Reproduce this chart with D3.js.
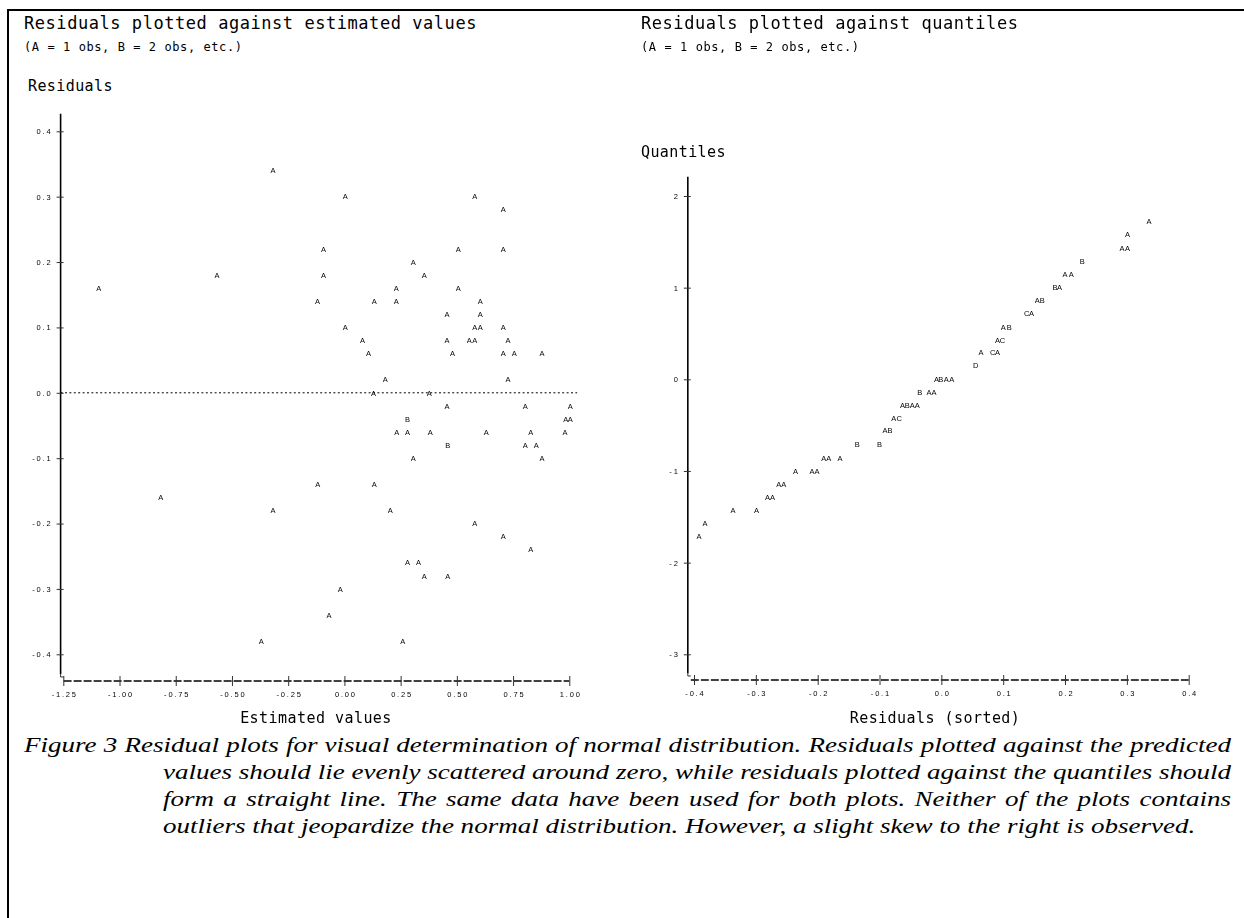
<!DOCTYPE html>
<html>
<head>
<meta charset="utf-8">
<script src="https://cdn.jsdelivr.net/npm/d3@7"></script>
<style>
  body { margin: 0; background: #fff; }
  svg { display: block; }
  .mono-ink { opacity: 0.999; }
</style>
</head>
<body>
<svg id="fig" width="1244" height="918"></svg>
<script>
// ---- Left panel: residual vs estimated value (count = observations in the cell) ----
const estValues = [
  -0.318,
  0.004, 0.580,
  0.706,
  -0.093, 0.506, 0.706,
  0.306,
  -0.567, -0.093, 0.355,
  -1.092, 0.231, 0.506,
  -0.120, 0.133, 0.231, 0.604,
  0.456, 0.604,
  0.004, 0.580, 0.604, 0.706,
  0.080, 0.456, 0.555, 0.580, 0.728,
  0.107, 0.481, 0.706, 0.755, 0.879,
  0.182, 0.728,
  0.129, 0.377,
  0.456, 0.804, 1.004,
  0.281, 0.984, 1.004,
  0.233, 0.281, 0.382, 0.631, 0.829, 0.981,
  0.459, 0.804, 0.853,
  0.306, 0.879,
  -0.118, 0.133,
  -0.817,
  -0.318, 0.204,
  0.580,
  0.706,
  0.829,
  0.281, 0.329,
  0.355, 0.459,
  -0.018,
  -0.069,
  -0.370, 0.259
];
const estResiduals = [
  0.34,
  0.30, 0.30,
  0.28,
  0.22, 0.22, 0.22,
  0.20,
  0.18, 0.18, 0.18,
  0.16, 0.16, 0.16,
  0.14, 0.14, 0.14, 0.14,
  0.12, 0.12,
  0.10, 0.10, 0.10, 0.10,
  0.08, 0.08, 0.08, 0.08, 0.08,
  0.06, 0.06, 0.06, 0.06, 0.06,
  0.02, 0.02,
  0.00, 0.00,
  -0.02, -0.02, -0.02,
  -0.04, -0.04, -0.04,
  -0.06, -0.06, -0.06, -0.06, -0.06, -0.06,
  -0.08, -0.08, -0.08,
  -0.10, -0.10,
  -0.14, -0.14,
  -0.16,
  -0.18, -0.18,
  -0.20,
  -0.22,
  -0.24,
  -0.26, -0.26,
  -0.28, -0.28,
  -0.30,
  -0.34,
  -0.38, -0.38
];
const estCounts = [
  1,
  1, 1,
  1,
  1, 1, 1,
  1,
  1, 1, 1,
  1, 1, 1,
  1, 1, 1, 1,
  1, 1,
  1, 1, 1, 1,
  1, 1, 1, 1, 1,
  1, 1, 1, 1, 1,
  1, 1,
  1, 1,
  1, 1, 1,
  2, 1, 1,
  1, 1, 1, 1, 1, 1,
  2, 1, 1,
  1, 1,
  1, 1,
  1,
  1, 1,
  1,
  1,
  1,
  1, 1,
  1, 1,
  1,
  1,
  1, 1
];

// ---- Right panel: sorted residual vs normal quantile ----
const sortedResiduals = [
  0.336,
  0.301,
  0.292, 0.301,
  0.228,
  0.200, 0.210,
  0.184, 0.191,
  0.155, 0.163,
  0.138, 0.146,
  0.100, 0.110,
  0.091, 0.099,
  0.064, 0.083, 0.091,
  0.0555,
  -0.008, -0.001, 0.008, 0.017,
  -0.035, -0.020, -0.012,
  -0.063, -0.055, -0.047, -0.039,
  -0.077, -0.068,
  -0.091, -0.083,
  -0.136, -0.100,
  -0.190, -0.182, -0.164,
  -0.236, -0.209, -0.201,
  -0.263, -0.255,
  -0.281, -0.273,
  -0.337, -0.299,
  -0.382,
  -0.392
];
const quantiles = [
  1.72,
  1.58,
  1.43, 1.43,
  1.29,
  1.15, 1.15,
  1.00, 1.00,
  0.86, 0.86,
  0.72, 0.72,
  0.57, 0.57,
  0.43, 0.43,
  0.29, 0.29, 0.29,
  0.15,
  0.00, 0.00, 0.00, 0.00,
  -0.14, -0.14, -0.14,
  -0.28, -0.28, -0.28, -0.28,
  -0.42, -0.42,
  -0.56, -0.56,
  -0.71, -0.71,
  -0.86, -0.86, -0.86,
  -1.00, -1.00, -1.00,
  -1.14, -1.14,
  -1.29, -1.29,
  -1.43, -1.43,
  -1.57,
  -1.71
];
const quantileCounts = [
  1,
  1,
  1, 1,
  2,
  1, 1,
  2, 1,
  1, 2,
  3, 1,
  1, 2,
  1, 3,
  1, 3, 1,
  4,
  1, 2, 1, 1,
  2, 1, 1,
  1, 2, 1, 1,
  1, 3,
  1, 2,
  2, 2,
  1, 1, 1,
  1, 1, 1,
  1, 1,
  1, 1,
  1, 1,
  1,
  1
];

// ---- Tick values ----
const estTicks = [-1.25, -1.00, -0.75, -0.50, -0.25, 0.00, 0.25, 0.50, 0.75, 1.00];
const residTicks = [-0.4, -0.3, -0.2, -0.1, 0.0, 0.1, 0.2, 0.3, 0.4];
const sortedResidTicks = [-0.4, -0.3, -0.2, -0.1, 0.0, 0.1, 0.2, 0.3, 0.4];
const quantileTicks = [-3, -2, -1, 0, 1, 2];

const captionLines = [
  "Figure 3 Residual plots for visual determination of normal distribution. Residuals plotted against the predicted",
  "values should lie evenly scattered around zero, while residuals plotted against the quantiles should",
  "form a straight line. The same data have been used for both plots. Neither of the plots contains",
  "outliers that jeopardize the normal distribution. However, a slight skew to the right is observed."
];

const letterFor = n => "ABCDEFGHIJ"[n - 1];
const fmt = digits => d => (Math.abs(d) < 1e-9 ? 0 : d).toFixed(digits);

const svg = d3.select("#fig");
const MONO = "'DejaVu Sans Mono', monospace";
const SANS = "'Liberation Sans', Arial, sans-serif";

// page frame: rule on the left and along the top
svg.append("line").attr("x1", 8).attr("x2", 8).attr("y1", 9).attr("y2", 918)
  .attr("stroke", "#000").attr("stroke-width", 2);
svg.append("line").attr("x1", 7).attr("x2", 1244).attr("y1", 10).attr("y2", 10)
  .attr("stroke", "#000").attr("stroke-width", 2);

function monoText(x, y, str, size, spacing, anchor) {
  return svg.append("text")
    .attr("x", x).attr("y", y)
    .attr("font-family", MONO)
    .attr("font-size", size)
    .attr("letter-spacing", spacing)
    .attr("text-anchor", anchor || "start")
    .attr("fill", "#000")
    .text(str);
}

// draws one panel: solid vertical axis, dashed horizontal axis, crossing ticks
function panel(opts) {
  const { x, y, xTicks, yTicks, xFmt, yFmt, xStart, yTop, yBottom, xAxisY } = opts;
  const g = svg.append("g").attr("class", "mono-ink");
  const axisX = x(xStart);

  // vertical axis
  g.append("line")
    .attr("x1", axisX).attr("x2", axisX)
    .attr("y1", y(yTop)).attr("y2", y(yBottom))
    .attr("stroke", "#000").attr("stroke-width", 1.6);
  // short foot joining the two axes
  g.append("path")
    .attr("d", `M${axisX},${y(yBottom)}V${xAxisY - 4}H${axisX + 3}`)
    .attr("fill", "none").attr("stroke", "#000").attr("stroke-width", 0.8);

  // vertical axis ticks + labels
  const yAxis = d3.axisLeft(y).tickValues(yTicks).tickFormat(yFmt).tickSize(4).tickPadding(6);
  const ya = g.append("g").attr("transform", `translate(${axisX},0)`).call(yAxis);
  ya.select(".domain").remove();
  ya.selectAll(".tick line").attr("x1", 3).attr("stroke", "#333").attr("stroke-width", 1);
  ya.selectAll(".tick text")
    .attr("font-family", SANS).attr("font-size", 7.5)
    .attr("letter-spacing", 1.8).attr("dx", 1.8).attr("fill", "#000");

  // horizontal axis: dashed rule with crossing ticks
  g.append("line")
    .attr("x1", axisX + 3).attr("x2", x(xTicks[xTicks.length - 1]))
    .attr("y1", xAxisY).attr("y2", xAxisY)
    .attr("stroke", "#000").attr("stroke-width", 1.3)
    .attr("stroke-dasharray", "8,2");
  const xAxis = d3.axisBottom(x).tickValues(xTicks).tickFormat(xFmt).tickSize(5).tickPadding(6);
  const xa = g.append("g").attr("transform", `translate(0,${xAxisY})`).call(xAxis);
  xa.select(".domain").remove();
  xa.selectAll(".tick line").attr("y1", -5).attr("stroke", "#333").attr("stroke-width", 1);
  xa.selectAll(".tick text")
    .attr("font-family", SANS).attr("font-size", 7.5)
    .attr("letter-spacing", 1.8).attr("dx", 0.9).attr("fill", "#000");
  return g;
}

function plotLetters(g, x, y, xs, ys, counts) {
  g.selectAll("text.pt")
    .data(xs.map((v, i) => ({ x: v, y: ys[i], n: counts[i] })))
    .join("text")
    .attr("class", "pt")
    .attr("x", d => x(d.x))
    .attr("y", d => y(d.y))
    .attr("dy", "0.36em")
    .attr("text-anchor", "middle")
    .attr("font-family", SANS)
    .attr("font-size", 7.5)
    .attr("fill", "#000")
    .text(d => letterFor(d.n));
}

// ---------------- left panel ----------------
const xL = d3.scaleLinear().domain([-1.25, 1.0]).range([63.3, 569.3]);
const yL = d3.scaleLinear().domain([-0.4, 0.4]).range([654.3, 131.3]);

monoText(24, 29, "Residuals plotted against estimated values", 17, 0.55);
monoText(24, 51, "(A = 1 obs, B = 2 obs, etc.)", 12, 0.58);
monoText(28, 91, "Residuals", 15, 0.4);

const gL = panel({
  x: xL, y: yL, xTicks: estTicks, yTicks: residTicks,
  xFmt: fmt(2), yFmt: fmt(1),
  xStart: -1.262, yTop: 0.427, yBottom: -0.43, xAxisY: 681
});
// reference line at zero residual
gL.append("line")
  .attr("x1", xL(-1.262)).attr("x2", xL(1.035))
  .attr("y1", yL(0)).attr("y2", yL(0))
  .attr("stroke", "#000").attr("stroke-width", 1)
  .attr("stroke-dasharray", "2,2.4");
plotLetters(gL, xL, yL, estValues, estResiduals, estCounts);
monoText(316, 723, "Estimated values", 15, 0.45, "middle");

// ---------------- right panel ----------------
const xR = d3.scaleLinear().domain([-0.4, 0.4]).range([694, 1188.7]);
const yR = d3.scaleLinear().domain([-3, 2]).range([654.3, 196]);

monoText(641, 29, "Residuals plotted against quantiles", 17, 0.55);
monoText(641, 51, "(A = 1 obs, B = 2 obs, etc.)", 12, 0.58);
monoText(641, 157, "Quantiles", 15, 0.4);

const gR = panel({
  x: xR, y: yR, xTicks: sortedResidTicks, yTicks: quantileTicks,
  xFmt: fmt(1), yFmt: d => String(d),
  xStart: -0.41, yTop: 2.21, yBottom: -3.21, xAxisY: 680
});
plotLetters(gR, xR, yR, sortedResiduals, quantiles, quantileCounts);
monoText(935, 723, "Residuals (sorted)", 15, 0.45, "middle");

// ---------------- caption (hanging indent, justified, wide italic serif) ----------------
const capLeft = [24, 163, 163, 163];
const capRight = 1231;
const capLastRight = 1196;
const capTop = 752, capStep = 27;
const capSize = 21;
const capLines = captionLines.map((line, i) => {
  const g = svg.append("g");
  const t = g.append("text")
    .attr("x", 0).attr("y", 0)
    .attr("font-family", "'Liberation Serif', 'Times New Roman', serif")
    .attr("font-style", "italic")
    .attr("font-size", capSize)
    .attr("fill", "#000")
    .text(line);
  return { g, t, line, i };
});
// horizontal stretch so the unjustified last line ends where it should
const lastNatural = capLines[capLines.length - 1].t.node().getComputedTextLength();
const sx = (capLastRight - capLeft[capLines.length - 1]) / lastNatural;
capLines.forEach(({ g, t, line, i }) => {
  g.attr("transform", `translate(${capLeft[i]},${capTop + i * capStep}) scale(${sx},1)`);
  if (i < capLines.length - 1) {
    const natural = t.node().getComputedTextLength();
    const gaps = (line.match(/ /g) || []).length;
    const extra = ((capRight - capLeft[i]) / sx - natural) / gaps;
    t.attr("word-spacing", extra);
  }
});
</script>
</body>
</html>
